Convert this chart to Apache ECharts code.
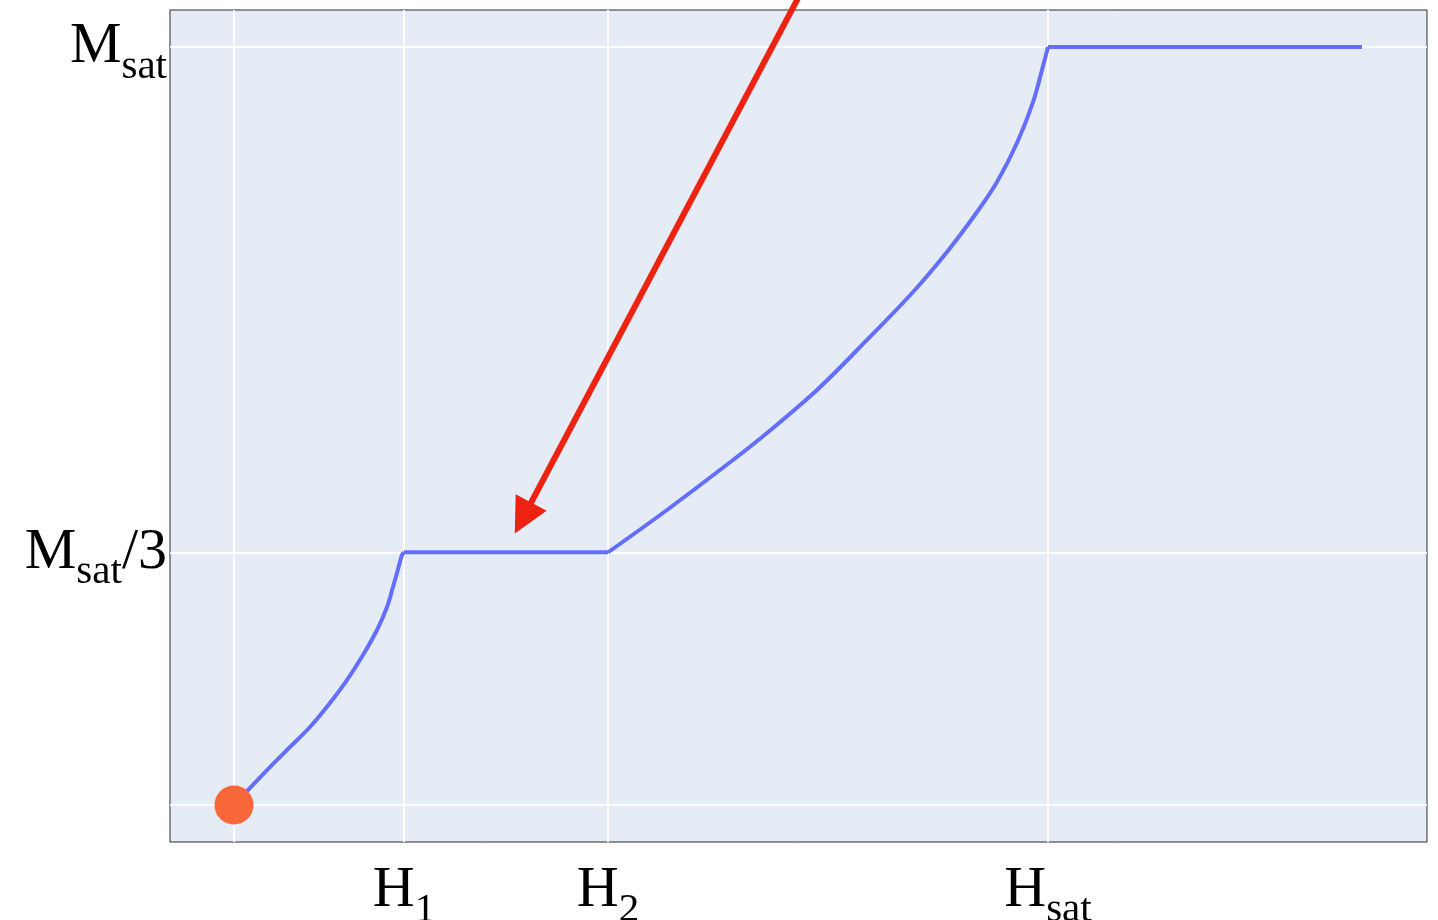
<!DOCTYPE html>
<html>
<head>
<meta charset="utf-8">
<title>Magnetization curve</title>
<script src="https://cdn.jsdelivr.net/npm/echarts@6/dist/echarts.min.js"></script>
<style>
  html, body { margin: 0; padding: 0; background: #ffffff; }
  #chart { width: 1438px; height: 920px; }
</style>
</head>
<body>
<div id="chart"></div>
<script>
// Field values in units of the saturation field, magnetization in units of Msat
const H1 = 0.2088;
const H2 = 0.4595;
const HSAT = 1.0;
const MSAT = 1.0;

// Magnetization curve M(H), one array pair per regime
// low-field rise up to the first critical field
const lowH = [0, 0.0172, 0.0442, 0.0688, 0.0934, 0.1179, 0.1388, 0.1585, 0.1757, 0.1880, 0.1953, 0.2002, 0.2064, H1];
const lowM = [0, 0.0198, 0.0501, 0.0765, 0.1029, 0.1346, 0.1649, 0.1979, 0.2309, 0.2612, 0.2876, 0.3061, 0.3298, MSAT / 3];
// 1/3 magnetization plateau
const plateauH = [H1, H2];
const plateauM = [MSAT / 3, MSAT / 3];
// high-field rise up to saturation
const highH = [H2, 0.5319, 0.6130, 0.6548, 0.7162, 0.7776, 0.8342, 0.8759, 0.9128, 0.9373, 0.9619, 0.9816, 0.9939, HSAT];
const highM = [MSAT / 3, 0.3892, 0.4551, 0.4908, 0.5475, 0.6135, 0.6768, 0.7296, 0.7823, 0.8219, 0.8734, 0.9274, 0.9749, MSAT];
// saturated state
const satH = [HSAT, 1.3857];
const satM = [MSAT, MSAT];

// Starting point of the sweep
const startPoint = [0, 0];

// Annotation arrow pointing at the 1/3 plateau (tail, head)
const arrowFrom = [0.695, 1.0686];
const arrowTo = [0.355, 0.3786];

// Axis ticks and their labels: [main text, subscript, trailing text]
const xTickValues = [0, H1, H2, HSAT];
const xTickLabels = [['', '', ''], ['H', '1', ''], ['H', '2', ''], ['H', 'sat', '']];
const yTickValues = [0, MSAT / 3, MSAT];
const yTickLabels = [['', '', ''], ['M', 'sat', '/3'], ['M', 'sat', '']];

// Axis extents
const xRange = [-0.0786, 1.4656];
const yRange = [-0.0488, 1.0488];

const serif = '"Liberation Serif", "DejaVu Serif", serif';
const richText = {
  m: { fontFamily: serif, fontSize: 58, color: '#000000' },
  s: { fontFamily: serif, fontSize: 41, color: '#000000', padding: [40, 0, 0, 0] }
};

function tickLabel(parts) {
  if (!parts || !parts[0]) return '';
  let out = '{m|' + parts[0] + '}{s|' + parts[1] + '}';
  if (parts[2]) out += '{m|' + parts[2] + '}';
  return out;
}

function labelFor(values, labels) {
  return function (value) {
    for (let i = 0; i < values.length; i++) {
      if (Math.abs(values[i] - value) < 1e-6) return tickLabel(labels[i]);
    }
    return '';
  };
}

function pairs(xs, ys) {
  return xs.map((x, i) => [x, ys[i]]);
}

const curveStyle = { color: '#636efa', width: 4 };

function curveSeries(name, xs, ys, smooth) {
  return {
    name: name,
    type: 'line',
    data: pairs(xs, ys),
    showSymbol: false,
    symbol: 'none',
    smooth: smooth,
    lineStyle: curveStyle,
    z: 2
  };
}

// White grid lines through the labelled tick values
const gridLines = xTickValues.map(v => ({ coords: [[v, yRange[0]], [v, yRange[1]]] }))
  .concat(yTickValues.map(v => ({ coords: [[xRange[0], v], [xRange[1], v]] })));

const hiddenTick = { show: false, length: 0, lineStyle: { width: 0, opacity: 0, color: 'rgba(0,0,0,0)' } };
const hiddenLine = { show: false, lineStyle: { width: 0, opacity: 0, color: 'rgba(0,0,0,0)' } };

const chart = echarts.init(document.getElementById('chart'), null, { renderer: 'canvas' });

chart.setOption({
  animation: false,
  backgroundColor: '#ffffff',
  grid: {
    left: 170, right: 11, top: 10, bottom: 78,
    outerBoundsMode: 'none',
    containLabel: false,
    show: true,
    backgroundColor: '#e5ecf6',
    borderColor: '#2a2a2a',
    borderWidth: 1
  },
  xAxis: {
    type: 'value',
    min: xRange[0], max: xRange[1],
    axisLine: hiddenLine,
    axisTick: hiddenTick,
    minorTick: { show: false },
    splitLine: { show: false },
    axisLabel: {
      customValues: xTickValues,
      margin: 8,
      hideOverlap: false,
      formatter: labelFor(xTickValues, xTickLabels),
      rich: richText
    }
  },
  yAxis: {
    type: 'value',
    min: yRange[0], max: yRange[1],
    axisLine: hiddenLine,
    axisTick: hiddenTick,
    minorTick: { show: false },
    splitLine: { show: false },
    axisLabel: {
      customValues: yTickValues,
      margin: 3,
      hideOverlap: false,
      formatter: labelFor(yTickValues, yTickLabels),
      rich: richText
    }
  },
  series: [
    {
      name: 'grid',
      type: 'lines',
      coordinateSystem: 'cartesian2d',
      silent: true,
      symbol: ['none', 'none'],
      lineStyle: { color: '#ffffff', width: 2, opacity: 1 },
      data: gridLines,
      z: 1
    },
    curveSeries('low field', lowH, lowM, 0.35),
    curveSeries('plateau', plateauH, plateauM, false),
    curveSeries('high field', highH, highM, 0.35),
    curveSeries('saturation', satH, satM, false),
    {
      name: 'start',
      type: 'scatter',
      data: [startPoint],
      symbolSize: 39,
      itemStyle: { color: '#f7673a', opacity: 1 },
      z: 3
    },
    {
      name: 'arrow',
      type: 'lines',
      coordinateSystem: 'cartesian2d',
      clip: false,
      symbol: ['none', 'triangle'],
      symbolSize: [36, 35],
      lineStyle: { color: '#ee2211', width: 6, opacity: 1, curveness: 0 },
      itemStyle: { color: '#ee2211' },
      data: [{ coords: [arrowFrom, arrowTo] }],
      z: 4
    }
  ]
});
</script>
</body>
</html>
